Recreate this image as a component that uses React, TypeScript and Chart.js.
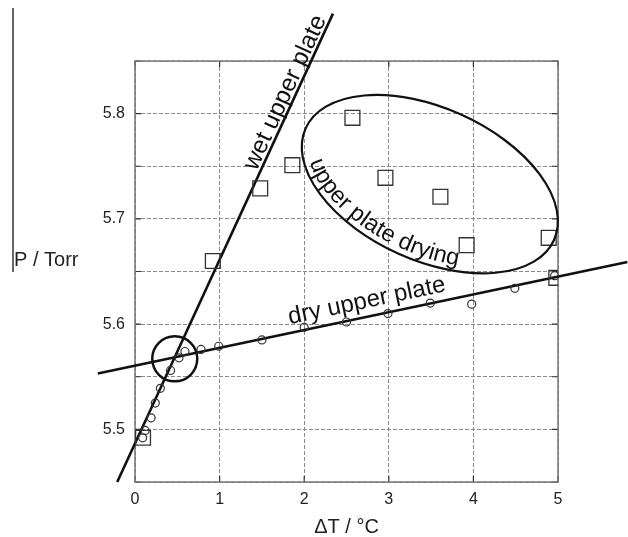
import React, { useEffect, useRef } from 'react';
import { Chart, registerables } from 'chart.js';

Chart.register(...registerables);

// ---- data ----
// small circles: dry upper plate measurements
const dryDT = [0.09, 0.12, 0.19, 0.24, 0.3, 0.42, 0.52, 0.59, 0.78, 0.99, 1.5, 2.0, 2.5, 2.99, 3.49, 3.98, 4.49, 4.96];
const dryP = [5.492, 5.499, 5.511, 5.525, 5.539, 5.556, 5.568, 5.574, 5.576, 5.579, 5.585, 5.597, 5.602, 5.61, 5.62, 5.619, 5.634, 5.646];
// open squares: wet upper plate / drying measurements
const wetDT = [0.095, 0.92, 1.48, 1.86, 2.57, 2.96, 3.61, 3.92, 4.89, 4.98];
const wetP = [5.492, 5.66, 5.729, 5.751, 5.796, 5.739, 5.721, 5.675, 5.682, 5.644];
// fitted straight lines (end points)
const wetFitDT = [-0.21, 2.34];
const wetFitP = [5.45, 5.895];
const dryFitDT = [-0.44, 5.82];
const dryFitP = [5.553, 5.659];
// intersection marker
const crossDT = [0.47];
const crossP = [5.567];
// ellipse: centre, end of major semi-axis, end of minor semi-axis
const ellipseDT = [3.485, 4.953, 3.113];
const ellipseP = [5.733, 5.68, 5.667];
// axes
const xTickValues = [0, 1, 2, 3, 4, 5];
const yTickLabels = ['5.5', '5.6', '5.7', '5.8'];
const xTitle = 'ΔT / °C';
const yTitle = 'P / Torr';
// annotation texts and anchors (start of baseline)
const labelTexts = ['wet upper plate', 'dry upper plate', 'upper plate drying'];
const labelDT = [1.435, 1.83];
const labelP = [5.745, 5.6];

const FONT = '"Liberation Sans", Arial, Helvetica, sans-serif';

function pts(xs: number[], ys: number[]) {
  return xs.map((x, i) => ({ x, y: ys[i] }));
}

function drawCurvedText(ctx: CanvasRenderingContext2D, text: string, cx: number, cy: number, a: number, b: number, th: number, t0: number) {
  const cu = Math.cos(th), su = Math.sin(th);
  const P = (t: number) => {
    const x = a * Math.cos(t), y = b * Math.sin(t);
    return [cx + x * cu - y * su, cy + x * su + y * cu];
  };
  let t = t0;
  const advance = (d: number) => {
    let acc = 0;
    let p = P(t);
    while (acc < d) {
      const nt = t - 0.0005;
      const np = P(nt);
      acc += Math.hypot(np[0] - p[0], np[1] - p[1]);
      t = nt;
      p = np;
    }
  };
  for (const ch of text) {
    const w = ctx.measureText(ch).width;
    advance(w / 2);
    const p = P(t);
    const q = P(t - 0.001);
    const ang = Math.atan2(q[1] - p[1], q[0] - p[0]);
    ctx.save();
    ctx.translate(p[0], p[1]);
    ctx.rotate(ang);
    ctx.textAlign = 'center';
    ctx.textBaseline = 'alphabetic';
    ctx.fillText(ch, 0, 0);
    ctx.restore();
    advance(w / 2);
  }
}

const annotate = {
  id: 'annotate',
  beforeDatasetsDraw(chart: any) {
    const { ctx, chartArea: a } = chart;
    const xs = chart.scales.x;
    const ys = chart.scales.y;
    ctx.save();
    // inward tick marks on all four sides
    ctx.strokeStyle = '#333';
    ctx.lineWidth = 1.2;
    ctx.beginPath();
    xs.ticks.forEach((t: any) => {
      const x = xs.getPixelForValue(t.value);
      ctx.moveTo(x, a.bottom);
      ctx.lineTo(x, a.bottom - 6);
      ctx.moveTo(x, a.top);
      ctx.lineTo(x, a.top + 6);
    });
    ys.ticks.forEach((t: any) => {
      const y = ys.getPixelForValue(t.value);
      ctx.moveTo(a.left, y);
      ctx.lineTo(a.left + 6, y);
      ctx.moveTo(a.right, y);
      ctx.lineTo(a.right - 6, y);
    });
    ctx.stroke();
    // frame
    ctx.strokeStyle = '#777';
    ctx.lineWidth = 1.5;
    ctx.strokeRect(a.left, a.top, a.right - a.left, a.bottom - a.top);
    ctx.restore();
  },
  afterDatasetsDraw(chart: any) {
    const { ctx } = chart;
    const xs = chart.scales.x;
    const ys = chart.scales.y;
    const px = (v: number) => xs.getPixelForValue(v);
    const py = (v: number) => ys.getPixelForValue(v);
    ctx.save();

    // stray vertical rule at the far left of the reference
    ctx.strokeStyle = '#666';
    ctx.lineWidth = 2;
    ctx.beginPath();
    ctx.moveTo(13, 8);
    ctx.lineTo(13, 272);
    ctx.stroke();

    // y axis title, horizontal
    ctx.fillStyle = '#222';
    ctx.font = `20px ${FONT}`;
    ctx.textAlign = 'left';
    ctx.textBaseline = 'alphabetic';
    ctx.fillText(yTitle, 14, 266);

    // ellipse
    const cx = px(ellipseDT[0]), cy = py(ellipseP[0]);
    const mx = px(ellipseDT[1]), my = py(ellipseP[1]);
    const nx = px(ellipseDT[2]), ny = py(ellipseP[2]);
    const ea = Math.hypot(mx - cx, my - cy);
    const eb = Math.hypot(nx - cx, ny - cy);
    const th = Math.atan2(my - cy, mx - cx);
    ctx.strokeStyle = '#111';
    ctx.lineWidth = 2.2;
    ctx.beginPath();
    ctx.ellipse(cx, cy, ea, eb, th, 0, Math.PI * 2);
    ctx.stroke();

    // straight labels along fit lines
    ctx.fillStyle = '#111';
    ctx.font = `24.5px ${FONT}`;
    const wetAng = Math.atan2(py(wetFitP[1]) - py(wetFitP[0]), px(wetFitDT[1]) - px(wetFitDT[0]));
    ctx.save();
    ctx.translate(px(labelDT[0]), py(labelP[0]));
    ctx.rotate(wetAng);
    ctx.textAlign = 'left';
    ctx.fillText(labelTexts[0], 0, 0);
    ctx.restore();

    ctx.font = `24px ${FONT}`;
    const dryAng = Math.atan2(py(dryFitP[1]) - py(dryFitP[0]), px(dryFitDT[1]) - px(dryFitDT[0]));
    ctx.save();
    ctx.translate(px(labelDT[1]), py(labelP[1]));
    ctx.rotate(dryAng);
    ctx.textAlign = 'left';
    ctx.fillText(labelTexts[1], 0, 0);
    ctx.restore();

    // curved label inside the ellipse
    ctx.font = `23.5px ${FONT}`;
    drawCurvedText(ctx, labelTexts[2], cx, cy, ea - 6, eb - 6, th, (156 * Math.PI) / 180);

    ctx.restore();
  },
};

export default function App() {
  const ref = useRef<HTMLCanvasElement>(null);
  useEffect(() => {
    const canvas = ref.current!;
    const lineStyle = {
      showLine: true,
      pointRadius: 0,
      borderColor: '#111',
      borderWidth: 2.6,
      clip: false as any,
    };
    const gridOpts = { color: '#8a8a8a', lineWidth: 1, drawTicks: false, borderDash: [4, 2] } as any;
    const chart = new Chart(canvas, {
      type: 'scatter',
      data: {
        datasets: [
          {
            label: 'dry',
            data: pts(dryDT, dryP),
            pointStyle: 'circle',
            pointRadius: 4,
            pointBorderWidth: 1.2,
            pointBorderColor: '#333',
            pointBackgroundColor: 'rgba(0,0,0,0)',
          } as any,
          {
            label: 'wet',
            data: pts(wetDT, wetP),
            pointStyle: 'rect',
            pointRadius: 10.5,
            pointBorderWidth: 1.3,
            pointBorderColor: '#333',
            pointBackgroundColor: 'rgba(0,0,0,0)',
          },
          { label: 'wetFit', data: pts(wetFitDT, wetFitP), ...lineStyle },
          { label: 'dryFit', data: pts(dryFitDT, dryFitP), ...lineStyle },
          {
            label: 'cross',
            data: pts(crossDT, crossP),
            pointStyle: 'circle',
            pointRadius: 22.5,
            pointBorderWidth: 2.5,
            pointBorderColor: '#111',
            pointBackgroundColor: 'rgba(0,0,0,0)',
            clip: false as any,
          },
        ],
      },
      options: {
        responsive: false,
        animation: false,
        devicePixelRatio: 1,
        events: [],
        layout: { padding: { left: 0, top: 61, right: 70, bottom: 0 } },
        plugins: { legend: { display: false }, tooltip: { enabled: false } },
        scales: {
          x: {
            type: 'linear',
            min: xTickValues[0],
            max: xTickValues[xTickValues.length - 1],
            afterFit: (s: any) => {
              s.height = 55;
            },
            afterBuildTicks: (s: any) => {
              s.ticks = xTickValues.map((v) => ({ value: v }));
            },
            ticks: {
              color: '#222',
              font: { family: FONT, size: 16 },
              padding: 8,
              callback: (v: any) => String(v),
            },
            grid: gridOpts,
            border: { display: false, dash: [4, 2] },
            title: {
              display: true,
              text: xTitle,
              color: '#222',
              font: { family: FONT, size: 20, lineHeight: 1 },
              padding: { top: 0, bottom: 0 },
            },
          },
          y: {
            type: 'linear',
            min: 5.45,
            max: 5.85,
            afterFit: (s: any) => {
              s.width = 135;
            },
            ticks: {
              stepSize: 0.05,
              color: '#222',
              font: { family: FONT, size: 16 },
              padding: 10,
              callback: (v: any) => {
                const s = Number(v).toFixed(1);
                return Math.abs(Number(v) * 10 - Math.round(Number(v) * 10)) < 1e-6 && yTickLabels.includes(s) ? s : '';
              },
            },
            grid: gridOpts,
            border: { display: false, dash: [4, 2] },
          },
        },
      },
      plugins: [annotate],
    });
    return () => chart.destroy();
  }, []);
  return (
    <div style={{ position: 'absolute', left: 0, top: 0, width: 628, height: 537, background: '#fff' }}>
      <canvas ref={ref} width={628} height={537} style={{ display: 'block', width: 628, height: 537 }} />
    </div>
  );
}
